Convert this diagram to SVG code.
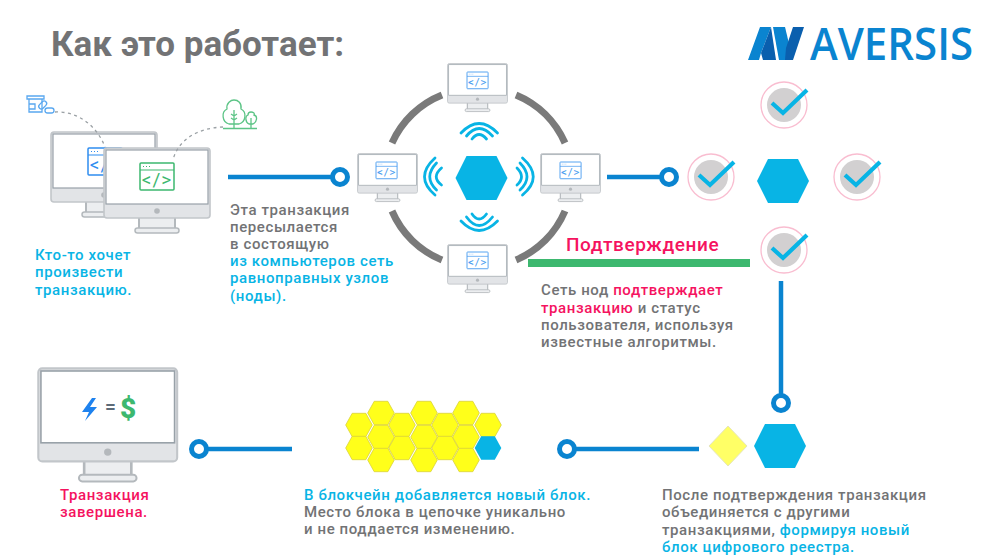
<svg xmlns="http://www.w3.org/2000/svg" width="1000" height="560" viewBox="0 0 1000 560">
<style>
text{font-family:Roboto,"Liberation Sans",sans-serif;font-weight:500;font-size:15px;letter-spacing:.6px;fill:#727375}
.b{fill:#08b4e5}.p{fill:#f5135f}
.ln{fill:none;stroke:#0a84d0;stroke-width:4.5}
.ci{fill:#fff;stroke:#0a84d0;stroke-width:5}
.hx{fill:#08b4e5}
.wv{fill:none;stroke:#08b4e5;stroke-width:2.800;stroke-linecap:round}
.ring{fill:none;stroke:#7a7a7a;stroke-width:7}
.hy{fill:#ffff1a;stroke:#d9d23a;stroke-width:.8}
.dash{fill:none;stroke:#9aa0a4;stroke-width:1.3;stroke-dasharray:3 3.5}
.ic{fill:none;stroke-width:1.3}
</style>
<defs>
<g id="mon">
<rect x="36" y="70" width="36" height="13" fill="#eceef0" stroke="#b4b9bd" stroke-width="2"/>
<rect x="32" y="81" width="44" height="5" rx="2.500" fill="#eceef0" stroke="#b4b9bd" stroke-width="1.500"/>
<rect x="1" y="1" width="106" height="70" rx="3" fill="#e2e4e7" stroke="#c2c6ca" stroke-width="1.600"/>
<rect x="3" y="3" width="102" height="54" fill="#fff" stroke="#98a1a8" stroke-width="1.200"/>
<circle cx="54" cy="64" r="2.800" fill="#b4b8bc"/>
</g>
<g id="win">
<rect x="0" y="0" width="34" height="27" rx="1" fill="#fff" stroke="currentColor" stroke-width="1.500"/>
<path d="M0 7H34" stroke="currentColor" stroke-width="1.200"/>
<path d="M3 3.500h1M6 3.500h1M9 3.500h1" stroke="currentColor" stroke-width="1"/>
<text x="17" y="23" text-anchor="middle" style="font-size:19px;font-weight:400;letter-spacing:1px;fill:currentColor">&lt;/&gt;</text>
</g>
<path id="hex" d="M-26 0L-15 -22H15L26 0L15 22H-15Z"/>
<path id="hc" d="M-13.300 0L-6.800 -11.700H6.800L13.300 0L6.800 11.700H-6.800Z"/>
<g id="chk">
<circle r="23" fill="none" stroke="#f9bdd0" stroke-width="1.300"/>
<circle r="17" fill="#d2d0d1"/>
<path d="M-12 -2L-1 8L23 -15" fill="none" stroke="#08b4e5" stroke-width="4.200"/>
</g>
</defs>

<text id="title" x="51" y="56" style="font-size:35px;font-weight:700;letter-spacing:0">Как это работает:</text>

<g id="logo">
<path d="M748 60L760 27H771L761 53L759 60Z" fill="#0a84d0"/>
<path d="M761 53L771 27L776 60H763Z" fill="#0a5fae"/>
<path d="M773 27H785L791 52L786 60H779Z" fill="#0a84d0"/>
<path d="M785 60H793L804 27H793L786 48Z" fill="#0a5fae"/>
<text x="810" y="60" textLength="163" lengthAdjust="spacingAndGlyphs" style="font-family:'Open Sans',sans-serif;font-size:46px;font-weight:600;letter-spacing:0;fill:#0a84d0">AVERSIS</text>
</g>

<g id="source">
<use href="#mon" transform="translate(50 131)"/>
<use href="#win" transform="translate(88 148)" color="#2f8df0"/>
<use href="#mon" transform="translate(103 147)"/>
<use href="#win" transform="translate(140 163)" color="#3db86f"/>
<g class="ic" stroke="#5aa8f0">
<path d="M27 96h17v3h-17zM29 99v13h13V99M29 104h6v5h-6"/>
<rect x="38" y="103" width="9" height="5" rx="2.500" transform="rotate(-45 42 105)"/>
<rect x="45" y="108" width="9" height="5" rx="2.500"/>
</g>
<g class="ic" stroke="#5cc486">
<path d="M229 124C222 122 221 112 227 109C226 103 231 100 234 100C238 100 242 103 241 109C247 112 246 122 239 124Z"/>
<path d="M249 124C245 122 245 116 248 115C248 112 250 112 251 112C253 112 255 113 254 115C258 116 257 122 253 124Z"/>
<path d="M234 110V128M234 116l-3-2M234 116l3-2M234 120l-3-2M234 120l3-2M251 118V128M223 128.500H257"/>
</g>
</g>

<g id="network">
<g id="node-top"><use href="#mon" transform="translate(447 63) scale(.565)"/><use href="#win" transform="translate(467 72) scale(.62)" color="#4a9df0"/></g>
<g id="node-left"><use href="#mon" transform="translate(357 153) scale(.565)"/><use href="#win" transform="translate(376 162) scale(.62)" color="#4a9df0"/></g>
<g id="node-right"><use href="#mon" transform="translate(540 153) scale(.565)"/><use href="#win" transform="translate(560 162) scale(.62)" color="#4a9df0"/></g>
<g id="node-bottom"><use href="#mon" transform="translate(447 244) scale(.565)"/><use href="#win" transform="translate(467 252) scale(.62)" color="#4a9df0"/></g>
<use class="hx" id="hex-center" href="#hex" transform="translate(481.500 178)"/>
<g id="waves">
<path class="wv" d="M461 133Q479 114 497.500 133M466.500 136Q479 121 492.500 136M472 139Q479 130 486.500 139"/>
<path class="wv" d="M461 221Q479 240 497.500 221M466.500 217Q479 234 492.500 217M472 214Q479 224 486.500 214"/>
<path class="wv" d="M435 158Q414 177 435 195M436.500 163Q423 177 436.500 190M441.500 168Q431 177 441.500 185"/>
<path class="wv" d="M522.500 158Q544 177 522.500 195M520 163Q534 177 520 190M517 168Q526 177 517 185"/>
</g>
</g>

<g id="confirm">
<use href="#chk" transform="translate(784 105)"/>
<use href="#chk" transform="translate(711 177)"/>
<use href="#chk" transform="translate(857 177)"/>
<use href="#chk" transform="translate(784 250)"/>
<use class="hx" href="#hex" transform="translate(783 181)"/>
</g>

<rect id="bar" x="528" y="259" width="222" height="8" fill="#3db86f"/>

<g id="done">
<use href="#mon" transform="translate(37 367) scale(1.31 1.33)"/>
<path d="M92 398L82 412H89L85 421L97 407H90L96 398Z" fill="#1e82ee"/>
<text x="105" y="413" style="font-size:19px;font-weight:700;letter-spacing:0;fill:#5d6b78">=</text>
<text x="120" y="418" style="font-size:28px;font-weight:900;letter-spacing:0;fill:#3db86f">$</text>
</g>

<g id="honeycomb">
<use class="hy" href="#hc" x="359" y="425"/><use class="hy" href="#hc" x="402" y="425"/><use class="hy" href="#hc" x="445" y="425"/><use class="hy" href="#hc" x="488" y="425"/>
<use class="hy" href="#hc" x="359" y="448"/><use class="hy" href="#hc" x="402" y="448"/><use class="hy" href="#hc" x="445" y="448"/>
<use class="hy" href="#hc" x="381" y="413"/><use class="hy" href="#hc" x="424" y="413"/><use class="hy" href="#hc" x="466" y="413"/>
<use class="hy" href="#hc" x="381" y="437"/><use class="hy" href="#hc" x="424" y="437"/><use class="hy" href="#hc" x="466" y="437"/>
<use class="hy" href="#hc" x="381" y="460"/><use class="hy" href="#hc" x="424" y="460"/><use class="hy" href="#hc" x="466" y="460"/>
<use class="hx" href="#hc" x="488" y="448"/>
</g>

<g id="merge">
<path d="M728 426L747 446L728 466L709 446Z" fill="#ffff66" stroke="#e6e6bb"/>
<use class="hx" href="#hex" transform="translate(780 446)"/>
</g>

<g id="connectors">
<path class="ln" d="M228 177H331"/><circle class="ci" cx="340" cy="177" r="7.500"/>
<path class="ln" d="M607 177H660"/><circle class="ci" cx="669" cy="177" r="7.500"/>
<path class="ln" d="M781 281V394"/><circle class="ci" cx="781" cy="403" r="7.500"/>
<path class="ln" d="M699 449H575"/><circle class="ci" cx="567" cy="449" r="7.500"/>
<path class="ln" d="M292 449H207"/><circle class="ci" cx="199" cy="449" r="7.500"/>
<path class="dash" d="M55 112C78 111 97 126 105 147"/>
<path class="dash" d="M223 127C197 128 178 140 173 160"/>
<g id="ring">
<path class="ring" d="M392 143A92 92 0 0 1 442 95"/>
<path class="ring" d="M516 95A92 92 0 0 1 565 143"/>
<path class="ring" d="M565 211A92 92 0 0 1 516 260"/>
<path class="ring" d="M442 260A92 92 0 0 1 392 211"/>
</g>
</g>

<g id="labels">
<text class="b" x="35" y="260">Кто-то хочет</text>
<text class="b" x="35" y="277">произвести</text>
<text class="b" x="35" y="295">транзакцию.</text>
<text x="230" y="215">Эта транзакция</text>
<text x="230" y="232">пересылается</text>
<text x="230" y="249">в состоящую</text>
<text class="b" x="230" y="266">из компьютеров сеть</text>
<text class="b" x="230" y="283">равноправных узлов</text>
<text class="b" x="230" y="301">(ноды).</text>
<text class="p" x="566" y="251" style="font-size:19px">Подтверждение</text>
<text x="541" y="295">Сеть нод <tspan class="p">подтверждает</tspan></text>
<text x="541" y="313"><tspan class="p">транзакцию</tspan> и статус</text>
<text x="541" y="330">пользователя, используя</text>
<text x="541" y="347">известные алгоритмы.</text>
<text class="p" x="60" y="500">Транзакция</text>
<text class="p" x="60" y="517">завершена.</text>
<text class="b" x="304" y="500">В блокчейн добавляется новый блок.</text>
<text x="304" y="517">Место блока в цепочке уникально</text>
<text x="304" y="534">и не поддается изменению.</text>
<text x="662" y="500">После подтверждения транзакция</text>
<text x="662" y="517">объединяется с другими</text>
<text x="662" y="535">транзакциями, <tspan class="b">формируя новый</tspan></text>
<text class="b" x="662" y="552">блок цифрового реестра.</text>
</g>
</svg>
